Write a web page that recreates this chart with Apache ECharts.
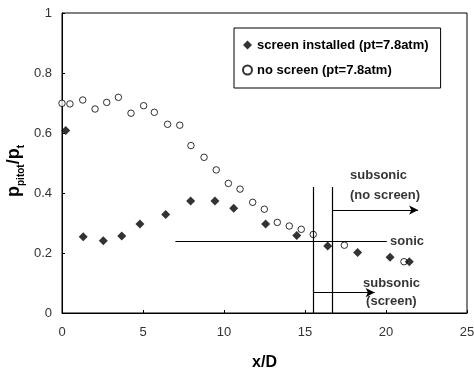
<!DOCTYPE html>
<html>
<head>
<meta charset="utf-8">
<script src="https://cdn.jsdelivr.net/npm/echarts@6/dist/echarts.min.js"></script>
<style>
  html, body { margin: 0; padding: 0; background: #fff; }
  #chart { width: 474px; height: 368px; }
</style>
</head>
<body>
<div id="chart"></div>
<script>
// screen installed (filled diamonds)
var screenX = [0.23, 1.31, 2.55, 3.69, 4.81, 6.40, 7.94, 9.44, 10.6, 12.57, 14.49, 16.4, 18.25, 20.25, 21.44];
var screenY = [0.608, 0.254, 0.241, 0.257, 0.297, 0.328, 0.373, 0.373, 0.349, 0.297, 0.258, 0.223, 0.202, 0.186, 0.171];
// no screen (open circles)
var noScreenX = [0, 0.49, 1.28, 2.04, 2.76, 3.48, 4.26, 5.04, 5.70, 6.52, 7.27, 7.96, 8.77, 9.52, 10.27, 10.99, 11.77, 12.49, 13.29, 14.03, 14.77, 15.51, 17.43, 21.11];
var noScreenY = [0.699, 0.697, 0.71, 0.68, 0.702, 0.719, 0.666, 0.691, 0.669, 0.629, 0.626, 0.558, 0.519, 0.477, 0.432, 0.413, 0.369, 0.346, 0.302, 0.29, 0.279, 0.262, 0.226, 0.171];

var seriesNames = ['screen installed (pt=7.8atm)', 'no screen (pt=7.8atm)'];

// annotation lines [x1, y1, x2, y2]
var plainLines = [
  [7.0, 0.238, 20.05, 0.238],   // sonic
  [15.5, 0, 15.5, 0.42],
  [16.7, 0, 16.7, 0.42]
];
var arrowLines = [
  [16.7, 0.343, 21.98, 0.343],  // subsonic (no screen)
  [15.5, 0.068, 19.3, 0.068]    // subsonic (screen)
];
// annotation texts [x, y, text]
var notes = [
  [17.78, 0.46, 'subsonic'],
  [17.78, 0.393, '(no screen)'],
  [20.25, 0.24, 'sonic'],
  [18.58, 0.097, 'subsonic'],
  [18.77, 0.037, '(screen)']
];

function zip(xs, ys) {
  return xs.map(function (x, i) { return [x, ys[i]]; });
}

var font = 'Liberation Sans, Arial, sans-serif';
var myChart = echarts.init(document.getElementById('chart'));

var lineData = plainLines.map(function (l) {
  return [{ coord: [l[0], l[1]], symbol: 'none' }, { coord: [l[2], l[3]], symbol: 'none' }];
}).concat(arrowLines.map(function (l) {
  return [{ coord: [l[0], l[1]], symbol: 'none' }, { coord: [l[2], l[3]], symbol: 'arrow', symbolSize: [7, 9] }];
}));

var option = {
  animation: false,
  backgroundColor: '#fff',
  grid: {
    left: 62, right: 7, top: 13, bottom: 55,
    containLabel: false,
    outerBoundsMode: 'none',
    show: true, borderColor: '#000', borderWidth: 1
  },
  legend: {
    data: [
      { name: seriesNames[0], icon: 'diamond' },
      { name: seriesNames[1], icon: 'circle' }
    ],
    orient: 'vertical',
    left: 234, top: 28,
    padding: [9, 12, 10, 8],
    itemGap: 9,
    itemWidth: 9, itemHeight: 9,
    borderColor: '#000', borderWidth: 1,
    textStyle: { fontFamily: font, fontSize: 13, fontWeight: 'bold', color: '#000', lineHeight: 16 }
  },
  xAxis: {
    type: 'value', min: 0, max: 25, interval: 5,
    name: 'x/D', nameLocation: 'middle', nameGap: 42,
    nameTextStyle: { fontFamily: font, fontSize: 16, fontWeight: 'bold', color: '#000' },
    axisLine: { lineStyle: { color: '#000' } },
    axisTick: { inside: true, length: 3, lineStyle: { color: '#000' } },
    axisLabel: { fontFamily: font, fontSize: 13, color: '#333', margin: 13 },
    splitLine: { show: false }
  },
  yAxis: {
    type: 'value', min: 0, max: 1, interval: 0.2,
    axisLine: { show: true, lineStyle: { color: '#000' } },
    axisTick: { show: true, inside: true, length: 3, lineStyle: { color: '#000' } },
    axisLabel: { fontFamily: font, fontSize: 13, color: '#333', margin: 10 },
    splitLine: { show: false }
  },
  graphic: [{
    type: 'text',
    x: 14, y: 171,
    rotation: Math.PI / 2,
    style: {
      text: '{p|p}{s|pitot}{p|/p}{s|t}',
      align: 'center', verticalAlign: 'middle',
      rich: {
        p: { fontFamily: font, fontSize: 18, fontWeight: 'bold', fill: '#000', verticalAlign: 'bottom' },
        s: { fontFamily: font, fontSize: 10, fontWeight: 'bold', fill: '#000', verticalAlign: 'bottom', padding: [0, 0, -3, 0] }
      }
    }
  }],
  series: [
    {
      name: seriesNames[1],
      type: 'scatter',
      symbol: 'circle',
      symbolSize: 6.5,
      itemStyle: { color: '#fff', borderColor: '#000', borderWidth: 1 },
      data: zip(noScreenX, noScreenY)
    },
    {
      name: seriesNames[0],
      type: 'scatter',
      symbol: 'diamond',
      symbolSize: 9,
      itemStyle: { color: '#000' },
      data: zip(screenX, screenY)
    },
    {
      name: 'lines',
      type: 'line',
      data: [],
      markLine: {
        silent: true,
        animation: false,
        label: { show: false },
        lineStyle: { color: '#000', width: 1.2, type: 'solid' },
        emphasis: { disabled: true },
        data: lineData
      }
    },
    {
      name: 'notes',
      type: 'scatter',
      symbolSize: 0,
      silent: true,
      data: notes,
      label: {
        show: true,
        position: 'right',
        distance: 0,
        formatter: function (p) { return p.value[2]; },
        fontFamily: font, fontSize: 13, fontWeight: 'bold', color: '#000'
      }
    }
  ]
};

myChart.setOption(option);
</script>
</body>
</html>
